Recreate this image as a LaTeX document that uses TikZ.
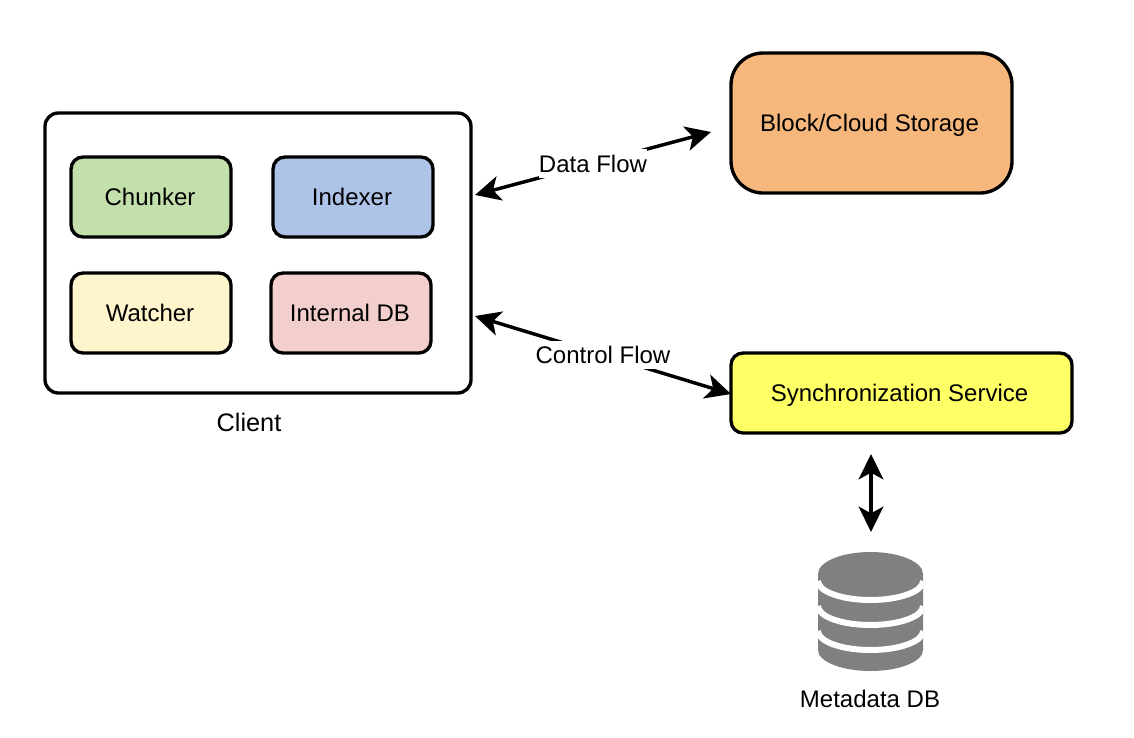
\documentclass[tikz,border=0pt]{standalone}
\usepackage{fontspec}
\setmainfont{Liberation Sans}
\usetikzlibrary{arrows.meta}
\definecolor{cgreen}{HTML}{C3DFAB}
\definecolor{cblue}{HTML}{AEC3E8}
\definecolor{cyellow}{HTML}{FFF5CC}
\definecolor{cpink}{HTML}{F2CFCC}
\definecolor{corange}{HTML}{F5B77C}
\definecolor{cbright}{HTML}{FFFF66}
\definecolor{cgray}{HTML}{808080}
\tikzset{
  x=0.75pt,y=-0.75pt,
  txt/.style={font=\fontsize{18pt}{20pt}\selectfont,text=black,text height=13pt,text depth=0pt},
  box/.style={draw=black,line width=2.5pt,rounded corners=9pt,inner sep=0pt,txt},
  small/.style={box,minimum width=120pt,minimum height=60pt},
  flow/.style={line width=2.6pt,{Stealth[length=19pt,width=18.5pt,inset=5pt]}-{Stealth[length=19pt,width=18.5pt,inset=5pt]}},
  lab/.style={txt,fill=white,inner sep=0pt,minimum height=21pt}
}
\begin{document}
\begin{tikzpicture}
\useasboundingbox (0,0) rectangle (1134,738);
\node[box,fill=white,rounded corners=10pt,minimum width=319.5pt,minimum height=210pt] (client) at (258,253) {};
\node[small,fill=cgreen] (chunker) at (151,197) {\kern-1.5pt Chunker};
\node[small,fill=cblue] (indexer) at (353,197) {\kern-1.5pt Indexer};
\node[small,fill=cyellow] (watcher) at (151,313) {\kern-1.5pt Watcher};
\node[small,fill=cpink] (internal) at (351,313) {\kern-1.5pt Internal DB};
\node[txt,font=\fontsize{19pt}{20pt}\selectfont] (clientlabel) at (249,423) {Client};
\node[box,fill=corange,rounded corners=24pt,minimum width=210.75pt,minimum height=105pt] (block) at (871.5,123) {\kern-3pt Block/Cloud Storage};
\node[box,fill=cbright,minimum width=255.75pt,minimum height=60pt] (sync) at (901.5,393) {\kern-3pt Synchronization Service};
% database icon
\fill[cgray] (818,574) arc[start angle=180,end angle=360,x radius=52.5,y radius=22]
  -- (923,650) arc[start angle=0,end angle=180,x radius=52.5,y radius=21] -- cycle;
\begin{scope}
\clip (818,540) rectangle (923,680);
\foreach \yy in {581,606,631}{
  \draw[white,line width=4.5pt] (818,\yy) arc[start angle=180,end angle=0,x radius=52.5,y radius=19];
}
\end{scope}
\coordinate (dbtop) at (871,454);
\coordinate (dbarrow) at (871,532);
\node[txt] (dblabel) at (870,699) {Metadata DB};
% connectors
\coordinate (dfa) at (475,195);
\coordinate (dfb) at (711,132);
\coordinate (cfa) at (475,316);
\coordinate (cfb) at (731,394);
\draw[flow] (dfa) -- node[lab,pos=0.5] (dataflow) {Data Flow} (dfb);
\draw[flow] (cfa) -- node[lab,pos=0.5] (controlflow) {Control Flow} (cfb);
\draw[flow] (dbtop) -- (dbarrow);
\end{tikzpicture}
\end{document}
